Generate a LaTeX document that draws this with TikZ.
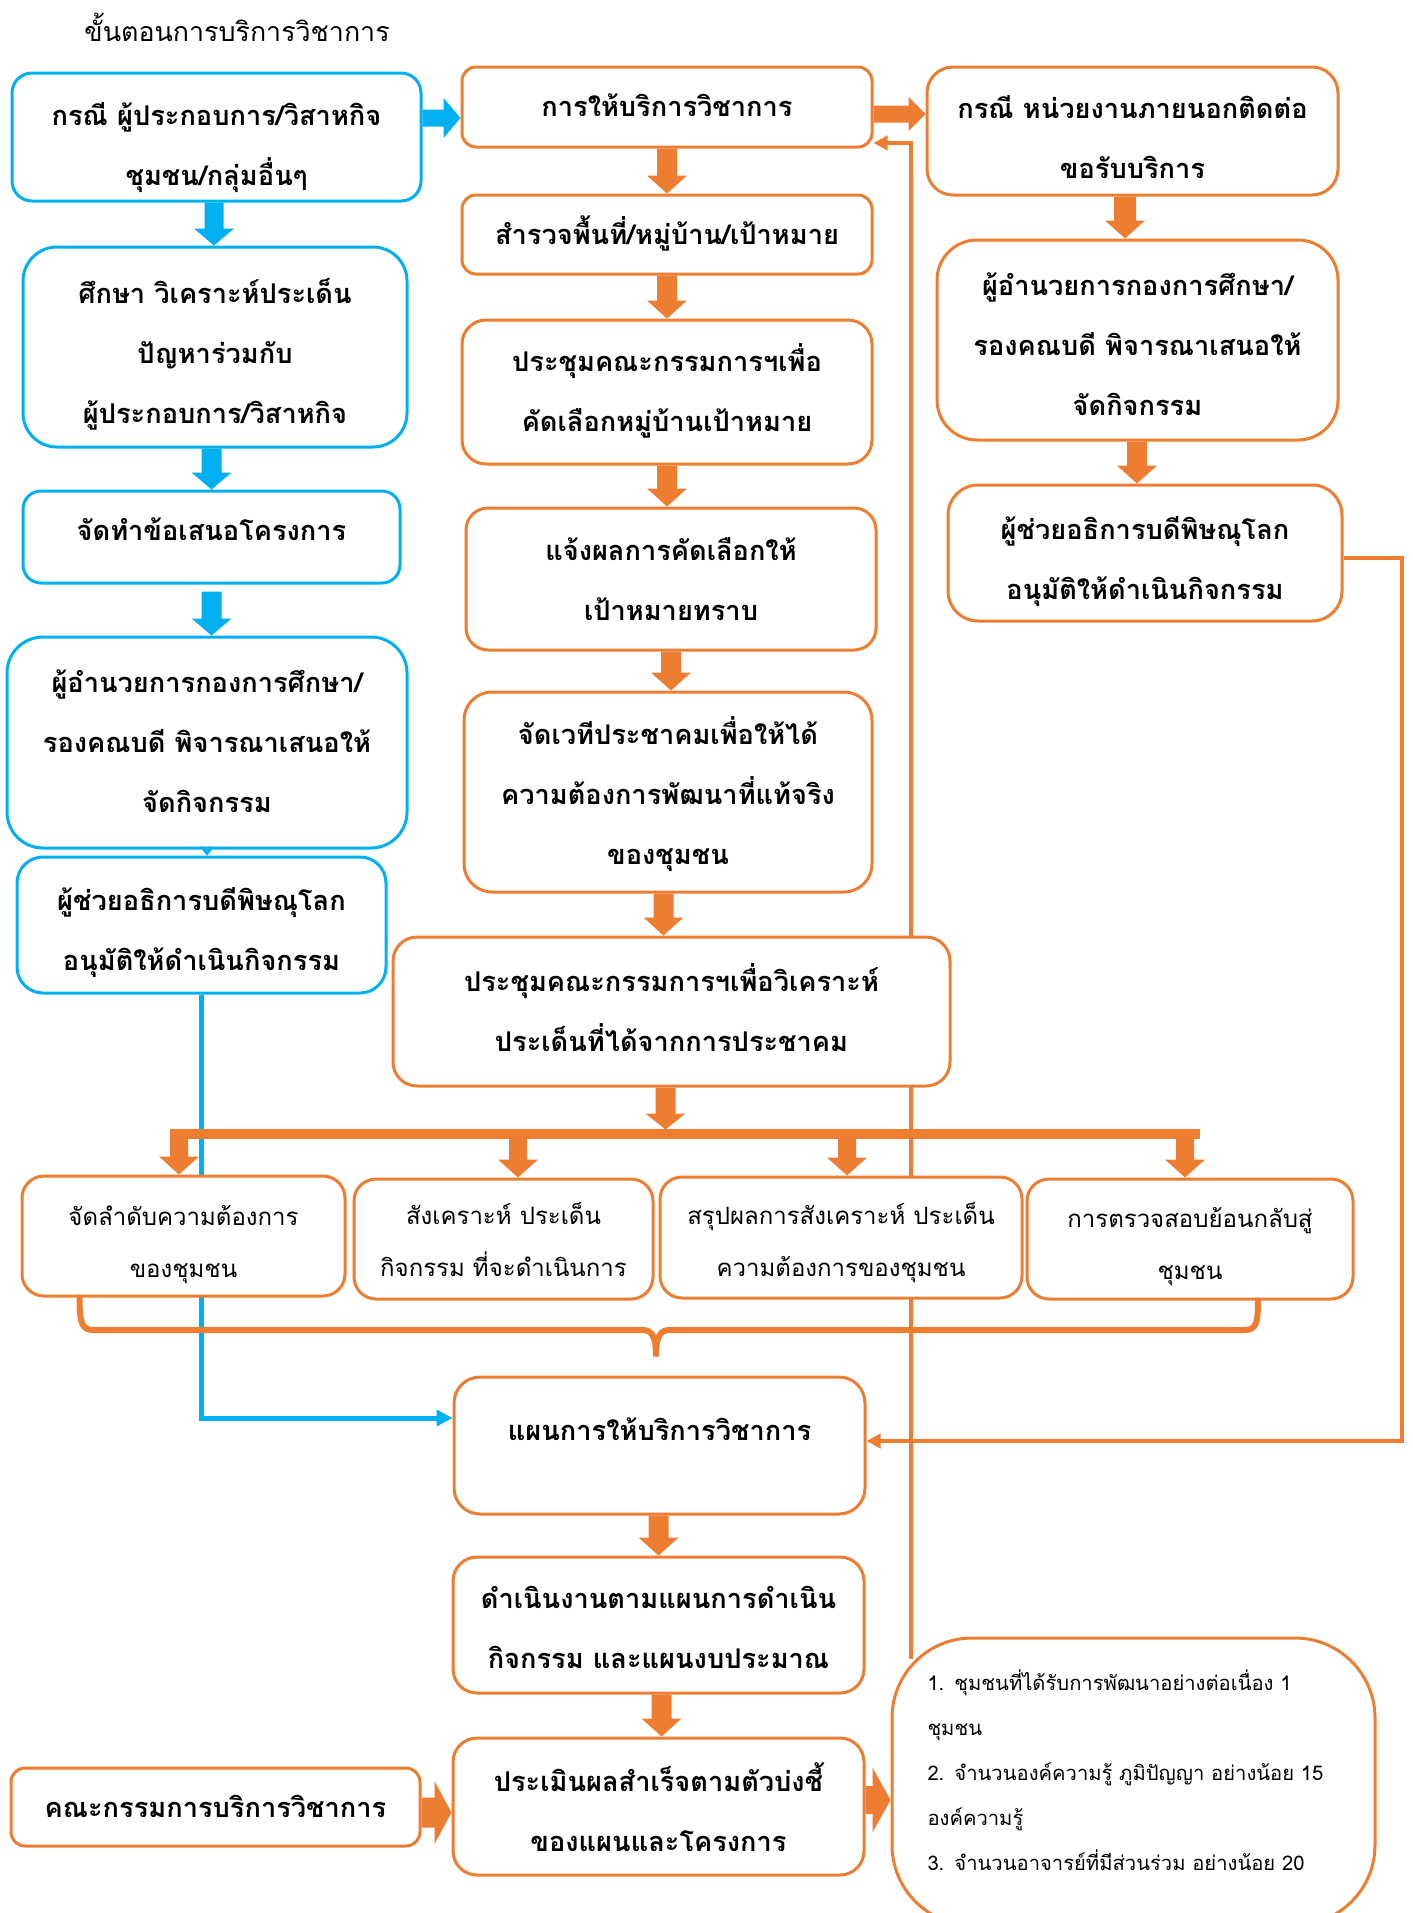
\documentclass[tikz,border=0pt]{standalone}
\usepackage{fontspec}
\setmainfont[Script=Thai]{Loma}
\usetikzlibrary{arrows.meta,calc,backgrounds}
\definecolor{oblue}{HTML}{00B0F0}
\definecolor{oorange}{HTML}{ED7D31}
% block arrows: #1 colour, #2 from, #3 to (tip), #4 shaft half, #5 head half, #6 head length
\newcommand\blkdown[6]{%
  \fill[#1] let \p1=(#2), \p2=(#3) in
    (\x2-#4,\y1) -- (\x2+#4,\y1) -- (\x2+#4,\y2+#6) -- (\x2+#5,\y2+#6) -- (\x2,\y2)
    -- (\x2-#5,\y2+#6) -- (\x2-#4,\y2+#6) -- cycle;}
\newcommand\blkright[6]{%
  \fill[#1] let \p1=(#2), \p2=(#3) in
    (\x1,\y2+#4) -- (\x2-#6,\y2+#4) -- (\x2-#6,\y2+#5) -- (\x2,\y2)
    -- (\x2-#6,\y2-#5) -- (\x2-#6,\y2-#4) -- (\x1,\y2-#4) -- cycle;}
% centred lines, moved down by #1 px
\newcommand\tx[2]{\raisebox{\dimexpr -#1pt/2\relax}[\height][\depth]{\begin{tabular}{@{}c@{}}#2\end{tabular}}}
\tikzset{
  base/.style={rectangle, fill=white, line width=1.5pt, inner sep=0pt,
    font=\bfseries\fontsize{13.6pt}{30pt}\selectfont},
  bbox/.style={base, draw=oblue},
  obox/.style={base, draw=oorange},
  wh/.style 2 args={minimum width=#1*0.5pt, minimum height=#2*0.5pt},
  rc/.style={rounded corners=#1*0.5pt},
  thinline/.style={draw=oorange, line width=2pt, -{Triangle[width=7pt,length=7pt]}},
  brace/.style={draw=oorange, line width=3pt, line cap=round},
}
\begin{document}
\begin{tikzpicture}[x=0.5pt,y=-0.5pt]
\useasboundingbox (0,0) rectangle (1413,1913);

\node[font=\fontsize{13.4pt}{30pt}\selectfont] (title) at (237,27) {ขั้นตอนการบริการวิชาการ};

% left column
\node[bbox, wh={409}{128}, rc=20] (B1) at (216.5,137) {\tx{6}{กรณี ผู้ประกอบการ/วิสาหกิจ\\ชุมชน/กลุ่มอื่นๆ}};
\node[bbox, wh={384}{200}, rc=34] (B2) at (215,347) {\tx{4}{ศึกษา วิเคราะห์ประเด็น\\ปัญหาร่วมกับ\\ผู้ประกอบการ/วิสาหกิจ}};
\node[bbox, wh={377}{92}, rc=18] (B3) at (211.5,537) {\tx{-9}{จัดทำข้อเสนอโครงการ}};
\node[bbox, wh={400}{211}, rc=36] (B4) at (207,742.5) {\tx{-2}{ผู้อำนวยการกองการศึกษา/\\รองคณบดี พิจารณาเสนอให้\\จัดกิจกรรม}};
\node[bbox, wh={369}{136}, rc=26] (B5) at (201.5,925) {\tx{3}{ผู้ช่วยอธิการบดีพิษณุโลก\\อนุมัติให้ดำเนินกิจกรรม}};

% centre column
\node[obox, wh={410}{80}, rc=14] (C1) at (667,107) {\tx{-3}{การให้บริการวิชาการ}};
\node[obox, wh={410}{79}, rc=14] (C2) at (667,234.5) {\tx{-2}{สำรวจพื้นที่/หมู่บ้าน/เป้าหมาย}};
\node[obox, wh={410}{144}, rc=24] (C3) at (667,392) {\tx{-3}{ประชุมคณะกรรมการฯเพื่อ\\คัดเลือกหมู่บ้านเป้าหมาย}};
\node[obox, wh={410}{142}, rc=22] (C4) at (671,579) {\tx{-1}{แจ้งผลการคัดเลือกให้\\เป้าหมายทราบ}};
\node[obox, wh={408}{200}, rc=28] (C5) at (668,792) {\tx{0}{จัดเวทีประชาคมเพื่อให้ได้\\ความต้องการพัฒนาที่แท้จริง\\ของชุมชน}};
\node[obox, wh={557}{149}, rc=24] (C6) at (671.5,1011.5) {\tx{-2}{ประชุมคณะกรรมการฯเพื่อวิเคราะห์\\ประเด็นที่ได้จากการประชาคม}};

% right column
\node[obox, wh={411}{128}, rc=26] (R1) at (1132.5,131) {\tx{5}{กรณี หน่วยงานภายนอกติดต่อ\\ขอรับบริการ}};
\node[obox, wh={401}{200}, rc=40] (R2) at (1137.5,340) {\tx{3}{ผู้อำนวยการกองการศึกษา/\\รองคณบดี พิจารณาเสนอให้\\จัดกิจกรรม}};
\node[obox, wh={394}{136}, rc=30] (R3) at (1145,553) {\tx{4}{ผู้ช่วยอธิการบดีพิษณุโลก\\อนุมัติให้ดำเนินกิจกรรม}};

% row of four
\tikzset{drow/.style={obox, rc=22, font=\fontsize{12pt}{26pt}\selectfont}}
\node[drow, wh={323}{120}] (D1) at (183.5,1236) {\tx{5}{จัดลำดับความต้องการ\\ของชุมชน}};
\node[drow, wh={299}{120}] (D2) at (503.5,1239) {\tx{1}{สังเคราะห์ ประเด็น\\กิจกรรม ที่จะดำเนินการ}};
\node[drow, wh={362}{121}] (D3) at (841,1237.5) {\tx{3}{สรุปผลการสังเคราะห์ ประเด็น\\ความต้องการของชุมชน}};
\node[drow, wh={326}{120}] (D4) at (1190,1239) {\tx{4}{การตรวจสอบย้อนกลับสู่\\ชุมชน}};

% lower part
\node[obox, wh={411}{137}, rc=26, align=center] (Plan) at (659.5,1445.5) {แผนการให้บริการวิชาการ\\[-13.5pt]\mbox{}};
\node[obox, wh={411}{136}, rc=24] (E1) at (658.5,1625) {\tx{1}{ดำเนินงานตามแผนการดำเนิน\\กิจกรรม และแผนงบประมาณ}};
\node[obox, wh={411}{137}, rc=24] (E2) at (658.5,1806.5) {\tx{3}{ประเมินผลสำเร็จตามตัวบ่งชี้\\ของแผนและโครงการ}};
\node[obox, wh={409}{78}, rc=14] (L) at (215.5,1807) {\tx{-2}{คณะกรรมการบริการวิชาการ}};
\node[obox, wh={483}{287}, rc=80, align=left, text width=206pt, font=\fontsize{10.1pt}{22.4pt}\selectfont] (KPI) at (1133.5,1781.5)
  {1. ชุมชนที่ได้รับการพัฒนาอย่างต่อเนื่อง 1\\ชุมชน\\2. จำนวนองค์ความรู้ ภูมิปัญญา อย่างน้อย 15\\องค์ความรู้\\3. จำนวนอาจารย์ที่มีส่วนร่วม อย่างน้อย 20\\[-11pt]\mbox{}};

% connectors behind the boxes
\begin{pgfonlayer}{background}
\draw[oblue, line width=2.5pt, -{Triangle[width=8pt,length=8pt]}] (B5.south) |- ([yshift=13.75pt]Plan.west);
\draw[thinline] ([xshift=10pt,yshift=-11pt]KPI.north west) |- ([yshift=-18pt]C1.east);
\draw[thinline] ([yshift=-2.5pt]R3.east) -- ++(58,0) |- ([yshift=2.25pt]Plan.east);
\end{pgfonlayer}

% blue block arrows
\blkright{oblue}{B1.east}{[yshift=-5.5pt]C1.west}{4.25pt}{10pt}{8.5pt}
\blkdown{oblue}{B1.south}{[xshift=-0.5pt]B2.north}{4.75pt}{10pt}{8.5pt}
\blkdown{oblue}{B2.south}{B3.north}{5pt}{10pt}{8.5pt}
\blkdown{oblue}{[yshift=-3.5pt]B3.south}{B3.south |- B4.north}{5pt}{10pt}{8.5pt}
\blkdown{oblue}{B4.south}{B4.south |- B5.north}{0.3pt}{3.75pt}{4.5pt}

% orange block arrows
\blkright{oorange}{C1.east}{[yshift=8.5pt]R1.west}{4.25pt}{8.5pt}{8.5pt}
\blkdown{oorange}{C1.south}{C2.north}{5pt}{10pt}{9pt}
\blkdown{oorange}{C2.south}{C2.south |- C3.north}{5pt}{10pt}{9pt}
\blkdown{oorange}{C3.south}{C3.south |- C4.north}{5pt}{10pt}{9pt}
\blkdown{oorange}{C4.south}{C4.south |- C5.north}{5pt}{10pt}{9pt}
\blkdown{oorange}{C5.south}{[xshift=-4pt]C6.north}{5pt}{10pt}{9pt}
\blkdown{oorange}{R1.south}{[xshift=-6.25pt]R2.north}{5.5pt}{10pt}{9pt}
\blkdown{oorange}{R2.south}{[xshift=-4pt]R3.north}{5pt}{10pt}{9pt}
\coordinate (bar) at ([xshift=-3pt,yshift=-23pt]C6.south);
\blkdown{oorange}{C6.south}{[xshift=-3pt,yshift=-21pt]C6.south}{5pt}{10pt}{8pt}
\draw[oorange, line width=5pt] (bar) ++(-496,0) -- ++(1030,0);
\blkdown{oorange}{bar}{[xshift=-2.25pt]D1.north}{4.5pt}{10pt}{9pt}
\blkdown{oorange}{bar}{[xshift=7.25pt]D2.north}{4.5pt}{10pt}{9pt}
\blkdown{oorange}{bar}{[xshift=3pt]D3.north}{4.5pt}{10pt}{9pt}
\blkdown{oorange}{bar}{[xshift=-2.5pt]D4.north}{4.5pt}{10pt}{9pt}
\blkdown{oorange}{Plan.south}{E1.north}{5pt}{10pt}{9pt}
\blkdown{oorange}{E1.south}{[xshift=1.5pt]E2.north}{5pt}{10pt}{9pt}
\blkright{oorange}{L.east}{[yshift=-3pt]E2.west}{7.5pt}{15.75pt}{8.5pt}
\blkright{oorange}{E2.east}{[yshift=-9.25pt]KPI.west}{7pt}{16.25pt}{9pt}

% brace under the row of four
\coordinate (bl) at ([xshift=-52pt]D1.south);
\coordinate (br) at ([xshift=34pt]D4.south);
\coordinate (bt) at ([xshift=-1.75pt,yshift=9.5pt]Plan.north);
\draw[brace] (bl) .. controls (79.5,1324) and (82,1330) .. (94,1330) -- (642,1330)
  .. controls (652,1330) and (656,1336) .. (bt)
  .. controls (656,1336) and (660,1330) .. (670,1330) -- (1244,1330)
  .. controls (1256,1330) and (1258,1324) .. (br);
\end{tikzpicture}
\end{document}
